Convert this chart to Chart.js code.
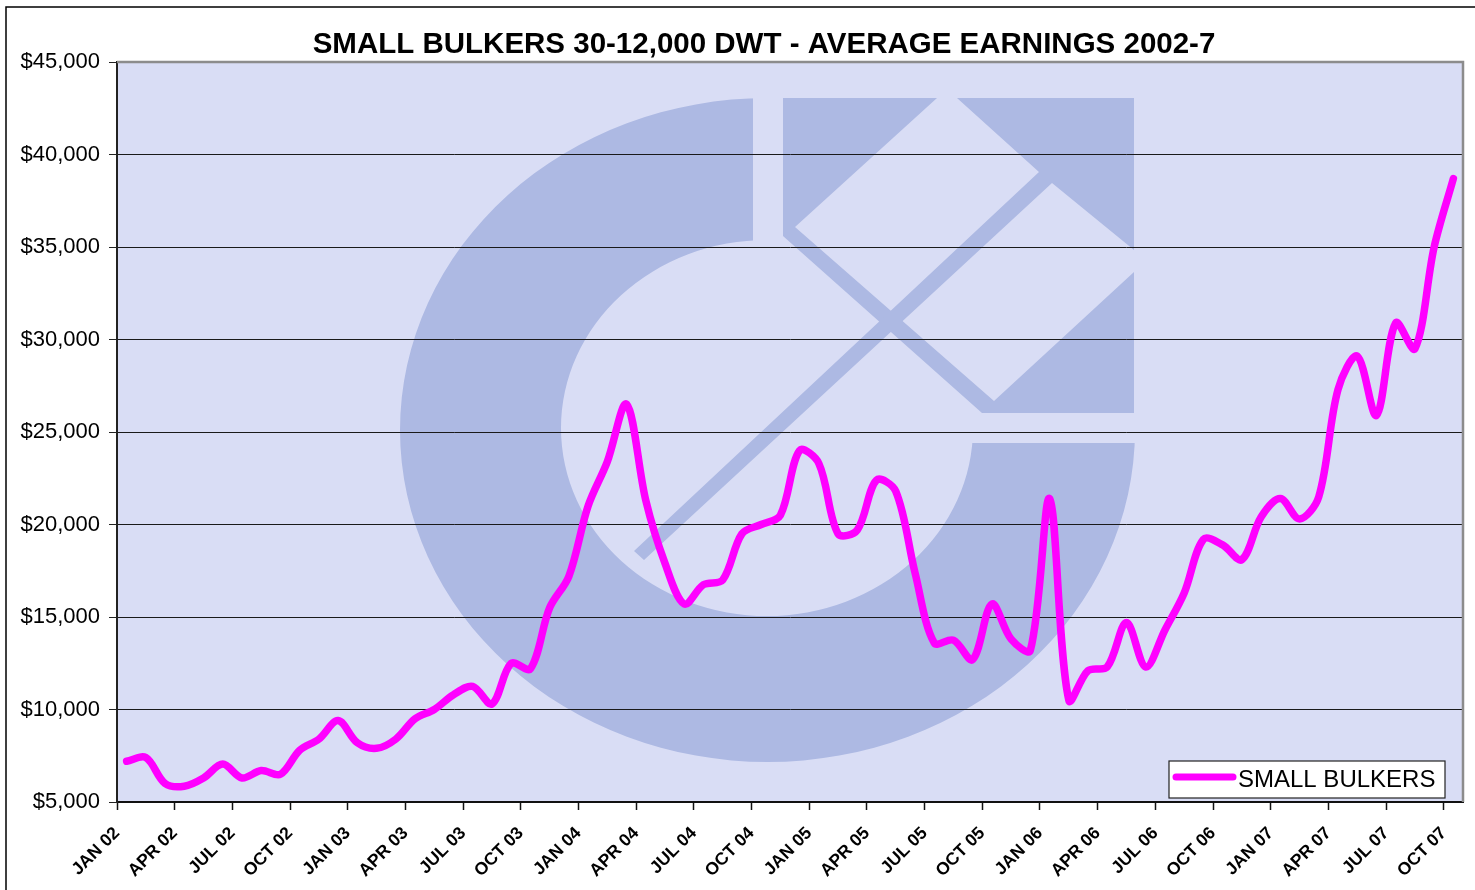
<!DOCTYPE html>
<html>
<head>
<meta charset="utf-8">
<title>Small bulkers 30-12,000 dwt - average earnings 2002-7</title>
<script src="https://cdn.jsdelivr.net/npm/chart.js@4.4.0/dist/chart.umd.min.js"></script>
<style>
  html, body { margin: 0; padding: 0; background: #fff; overflow: hidden; }
  canvas { display: block; }
</style>
</head>
<body>
<canvas id="chart" width="1475" height="890"></canvas>
<script>
// one category per month, JAN 02 .. OCT 07
const months = [
  "JAN 02","FEB 02","MAR 02","APR 02","MAY 02","JUN 02","JUL 02","AUG 02","SEP 02","OCT 02","NOV 02","DEC 02",
  "JAN 03","FEB 03","MAR 03","APR 03","MAY 03","JUN 03","JUL 03","AUG 03","SEP 03","OCT 03","NOV 03","DEC 03",
  "JAN 04","FEB 04","MAR 04","APR 04","MAY 04","JUN 04","JUL 04","AUG 04","SEP 04","OCT 04","NOV 04","DEC 04",
  "JAN 05","FEB 05","MAR 05","APR 05","MAY 05","JUN 05","JUL 05","AUG 05","SEP 05","OCT 05","NOV 05","DEC 05",
  "JAN 06","FEB 06","MAR 06","APR 06","MAY 06","JUN 06","JUL 06","AUG 06","SEP 06","OCT 06","NOV 06","DEC 06",
  "JAN 07","FEB 07","MAR 07","APR 07","MAY 07","JUN 07","JUL 07","AUG 07","SEP 07","OCT 07"
];

// only every third month gets a label on the x axis
const quarterLabels = [
  "JAN 02","APR 02","JUL 02","OCT 02","JAN 03","APR 03","JUL 03","OCT 03",
  "JAN 04","APR 04","JUL 04","OCT 04","JAN 05","APR 05","JUL 05","OCT 05",
  "JAN 06","APR 06","JUL 06","OCT 06","JAN 07","APR 07","JUL 07","OCT 07"
];

// average earnings, $/day
const earnings2002 = [7200, 7400, 6000, 5850, 6300, 7050, 6300, 6700, 6500, 7800, 8400, 9400];
const earnings2003 = [8200, 7900, 8400, 9500, 10000, 10800, 11250, 10300, 12500, 12200, 15500, 17200];
const earnings2004 = [21000, 23400, 26500, 21300, 17900, 15700, 16750, 17000, 19500, 20000, 20500, 24000];
const earnings2005 = [23300, 19500, 19700, 22400, 21800, 17400, 13600, 13750, 12700, 15700, 13800, 13200];
const earnings2006 = [21400, 10500, 12100, 12300, 14700, 12300, 14300, 16300, 19200, 18900, 18100, 20400];
const earnings2007 = [21400, 20300, 21500, 27300, 29100, 25900, 30900, 29500, 35000, 38700];

const yTicks = [5000, 10000, 15000, 20000, 25000, 30000, 35000, 40000, 45000];

const chartTitle = "SMALL BULKERS 30-12,000 DWT - AVERAGE EARNINGS 2002-7";

const earnings = [].concat(earnings2002, earnings2003, earnings2004, earnings2005, earnings2006, earnings2007);

const fontFamily = "'Liberation Sans', Arial, sans-serif";
const plotBg = "#d9ddf5";
const logoFill = "#adb9e3";
const lineColor = "#ff00ff";

// company logo watermark, laid out for a plot area whose corner is (117, 62)
function drawLogo(ctx, area) {
  ctx.save();
  ctx.translate(area.left - 117, area.top - 62);
  ctx.fillStyle = logoFill;

  // the "C": an elliptical ring with its upper right quarter cut away
  ctx.save();
  ctx.beginPath();
  ctx.moveTo(0, 0);
  ctx.lineTo(753, 0);
  ctx.lineTo(753, 443);
  ctx.lineTo(1475, 443);
  ctx.lineTo(1475, 890);
  ctx.lineTo(0, 890);
  ctx.closePath();
  ctx.clip();
  ctx.beginPath();
  ctx.ellipse(767.5, 430, 367.5, 332, 0, 0, Math.PI * 2);
  ctx.moveTo(767 + 206, 428);
  ctx.ellipse(767, 428, 206, 188, 0, 0, Math.PI * 2);
  ctx.fill("evenodd");
  ctx.restore();

  const polys = [
    [[783, 98], [937, 98], [795, 227], [994, 401], [1134, 272], [1134, 413], [982, 413], [783, 236]],
    [[957, 98], [1134, 98], [1134, 250], [1052, 183], [644, 560], [634, 551], [1039, 172]]
  ];
  polys.forEach((p) => {
    ctx.beginPath();
    p.forEach(([x, y], i) => (i ? ctx.lineTo(x, y) : ctx.moveTo(x, y)));
    ctx.closePath();
    ctx.fill();
  });
  ctx.restore();
}

const plotDecor = {
  id: "plotDecor",
  beforeDraw(chart) {
    const { ctx, chartArea: a } = chart;
    ctx.save();
    ctx.fillStyle = plotBg;
    ctx.fillRect(a.left, a.top, a.right - a.left, a.bottom - a.top);
    drawLogo(ctx, a);
    // frame of the whole chart object
    ctx.strokeStyle = "#000";
    ctx.lineWidth = 1.5;
    ctx.beginPath();
    ctx.moveTo(6, chart.height);
    ctx.lineTo(6, 7);
    ctx.lineTo(chart.width, 7);
    ctx.stroke();
    // title, centred a little left of the plot centre as in the original
    ctx.fillStyle = "#000";
    ctx.font = "bold 29.5px " + fontFamily;
    ctx.textAlign = "center";
    ctx.textBaseline = "middle";
    ctx.fillText(chartTitle, 764, 45);
    ctx.restore();
  },
  beforeDatasetsDraw(chart) {
    // grey border on the top and right of the plot area
    const { ctx, chartArea: a } = chart;
    ctx.save();
    ctx.strokeStyle = "#8c8c8c";
    ctx.lineWidth = 2.5;
    ctx.beginPath();
    ctx.moveTo(a.left, a.top);
    ctx.lineTo(a.right, a.top);
    ctx.lineTo(a.right, a.bottom);
    ctx.stroke();
    ctx.restore();
  },
  afterDatasetsDraw(chart) {
    // legend box in the lower right corner of the plot
    const { ctx, chartArea: a } = chart;
    const ds = chart.data.datasets[0];
    const x = a.right - 294, y = a.bottom - 41, w = 276, h = 37;
    ctx.save();
    ctx.fillStyle = "#fff";
    ctx.fillRect(x, y, w, h);
    ctx.strokeStyle = "#222";
    ctx.lineWidth = 1.2;
    ctx.strokeRect(x, y, w, h);
    ctx.strokeStyle = ds.borderColor;
    ctx.lineWidth = 7;
    ctx.lineCap = "round";
    ctx.beginPath();
    ctx.moveTo(x + 7, y + 16);
    ctx.lineTo(x + 64, y + 16);
    ctx.stroke();
    ctx.fillStyle = "#000";
    ctx.font = "24px " + fontFamily;
    ctx.textBaseline = "middle";
    ctx.fillText(ds.label, x + 69, y + 19);
    ctx.restore();
  }
};

new Chart(document.getElementById("chart"), {
  type: "line",
  data: {
    labels: months,
    datasets: [
      {
        label: "SMALL BULKERS",
        data: earnings,
        borderColor: lineColor,
        backgroundColor: lineColor,
        borderWidth: 7.5,
        borderCapStyle: "round",
        borderJoinStyle: "round",
        pointRadius: 0,
        tension: 0.33,
        fill: false,
      },
    ],
  },
  options: {
    responsive: false,
    animation: false,
    layout: { padding: { left: 5, right: 12, top: 62, bottom: 0 } },
    plugins: {
      legend: { display: false },
      tooltip: { enabled: false },
      title: { display: false },
    },
    scales: {
      x: {
        type: "category",
        offset: true,
        afterFit: (s) => {
          s.height = 88;
          s.paddingLeft = 0;
          s.paddingRight = 0;
        },
        border: { color: "#111", width: 2 },
        grid: {
          offset: true,
          drawOnChartArea: false,
          tickLength: 8,
          tickWidth: 1.5,
          tickColor: (c) => (c.index % 3 === 0 ? "#111" : "rgba(0,0,0,0)"),
        },
        ticks: {
          autoSkip: false,
          maxRotation: 45,
          minRotation: 45,
          labelOffset: -9.6,
          padding: 13,
          color: "#000",
          font: { family: fontFamily, size: 17.5, weight: "bold" },
          callback: (v, i) => (i % 3 === 0 ? quarterLabels[i / 3] : ""),
        },
      },
      y: {
        min: yTicks[0],
        max: yTicks[yTicks.length - 1],
        afterFit: (s) => { s.width = 112; },
        afterBuildTicks: (s) => { s.ticks = yTicks.map((v) => ({ value: v })); },
        border: { color: "#222", width: 2 },
        grid: {
          color: (c) => (c.tick && c.tick.value === yTicks[yTicks.length - 1] ? "rgba(0,0,0,0)" : "#1a1a1a"),
          lineWidth: 1,
          tickLength: 8,
          tickColor: "#222",
        },
        ticks: {
          padding: 9,
          color: "#000",
          font: { family: fontFamily, size: 22 },
          callback: (v) => "$" + v.toLocaleString("en-US"),
        },
      },
    },
  },
  plugins: [plotDecor],
});
</script>
</body>
</html>
